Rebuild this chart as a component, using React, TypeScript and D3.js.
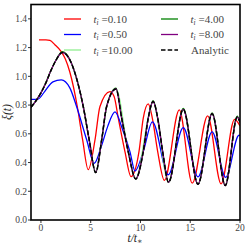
import React from 'react';
import * as d3 from 'd3';

type Pt = [number, number];

// tick values
const xTicks = [0, 5, 10, 15, 20];
const yTicks = [0, 0.2, 0.4, 0.6, 0.8, 1.0, 1.2, 1.4];

// xi(t), [t/t*, xi]
const tI010: Pt[] = [
  [-0.2, 1.254], [0.5, 1.254], [0.9, 1.25], [1.4, 1.22], [2.0, 1.175], [2.45, 1.12],
  [2.9, 1.03], [3.65, 0.79], [4.19, 0.557], [4.75, 0.35], [5.43, 0.557], [5.93, 0.79],
  [6.93, 0.894], [7.35, 0.86], [7.77, 0.709], [8.44, 0.476], [9.05, 0.302], [9.85, 0.476],
  [10.28, 0.709], [10.78, 0.808], [11.19, 0.709], [11.73, 0.476], [12.4, 0.276],
  [13.9, 0.767], [15.2, 0.256], [16.75, 0.725], [18.1, 0.252], [19.45, 0.70], [20, 0.655],
];
const tI050: Pt[] = [
  [-1, 0.84], [-0.3, 0.842], [0.37, 0.894], [1.2, 0.962], [2.04, 0.975], [2.9, 0.92],
  [3.58, 0.79], [4.6, 0.557], [5.35, 0.395], [6.1, 0.52], [6.7, 0.65], [7.44, 0.752],
  [8.2, 0.63], [8.94, 0.476], [9.45, 0.341], [10.28, 0.476], [11.2, 0.683], [12.8, 0.315],
  [14.3, 0.643], [15.78, 0.30], [17.2, 0.613], [18.56, 0.297], [19.9, 0.59], [20, 0.589],
];
const tI1000: Pt[] = [
  [-1, 0.786], [0, 0.886], [1.0, 1.04], [1.5, 1.11], [2.14, 1.167], [2.9, 1.115],
  [3.42, 1.022], [4.25, 0.79], [4.85, 0.557], [5.5, 0.331], [6.1, 0.557], [6.6, 0.79],
  [7.54, 0.912], [8.77, 0.476], [9.52, 0.287], [10.78, 0.709], [11.27, 0.826],
  [12.82, 0.262], [14.3, 0.771], [15.78, 0.25], [17.2, 0.741], [18.52, 0.241],
  [19.72, 0.717], [20, 0.68],
];
const tI400: Pt[] = [
  [-1, 0.785], [-0.5, 0.83], [0, 0.885], [0.5, 0.955], [1.0, 1.04], [1.5, 1.112],
  [2.14, 1.172], [2.9, 1.117], [3.42, 1.022], [4.25, 0.79], [4.85, 0.557], [5.5, 0.33],
  [6.1, 0.557], [6.6, 0.79], [7.54, 0.918], [8.11, 0.709], [8.77, 0.476], [9.52, 0.286],
  [10.28, 0.476], [10.78, 0.709], [11.27, 0.831], [11.73, 0.709], [12.23, 0.476],
  [12.82, 0.262], [14.3, 0.776], [15.78, 0.249], [17.2, 0.746], [18.52, 0.24],
  [19.72, 0.722], [20, 0.68],
];
const tI800: Pt[] = [
  [-1, 0.785], [-0.5, 0.83], [0, 0.885], [0.5, 0.955], [1.0, 1.04], [1.5, 1.11],
  [2.14, 1.166], [2.9, 1.115], [3.42, 1.022], [4.25, 0.79], [4.85, 0.557], [5.5, 0.33],
  [6.1, 0.557], [6.6, 0.79], [7.54, 0.912], [8.11, 0.709], [8.77, 0.476], [9.52, 0.286],
  [10.28, 0.476], [10.78, 0.709], [11.27, 0.825], [11.73, 0.709], [12.23, 0.476],
  [12.82, 0.262], [14.3, 0.77], [15.78, 0.249], [17.2, 0.74], [18.52, 0.24],
  [19.72, 0.716], [20, 0.68],
];
const analytic: Pt[] = [
  [-1, 0.785], [-0.5, 0.83], [0, 0.885], [0.5, 0.955], [1.0, 1.04], [1.5, 1.11],
  [2.14, 1.166], [2.9, 1.115], [3.42, 1.022], [4.25, 0.79], [4.85, 0.557], [5.5, 0.33],
  [6.1, 0.557], [6.6, 0.79], [7.54, 0.912], [8.11, 0.709], [8.77, 0.476], [9.52, 0.286],
  [10.28, 0.476], [10.78, 0.709], [11.27, 0.825], [11.73, 0.709], [12.23, 0.476],
  [12.82, 0.262], [14.3, 0.77], [15.78, 0.249], [17.2, 0.74], [18.52, 0.24],
  [19.72, 0.716], [20, 0.68],
];

// plot order = legend order (two columns, filled column first)
const series = [
  { label: '0.10', data: tI010, color: '#ff0000', dash: null },
  { label: '0.50', data: tI050, color: '#0000ff', dash: null },
  { label: '10.00', data: tI1000, color: '#90ee90', dash: null },
  { label: '4.00', data: tI400, color: '#008000', dash: null },
  { label: '8.00', data: tI800, color: '#800080', dash: null },
  { label: 'Analytic', data: analytic, color: '#000000', dash: '4.5,2.2' },
];

const W = 249, H = 249;
const m = { left: 31, right: 240, top: 4.5, bottom: 220 };
const font = '"Liberation Serif", "DejaVu Serif", serif';

export default function App() {
  const x = d3.scaleLinear().domain([-1, 20]).range([m.left, m.right]);
  const y = d3.scaleLinear().domain([0, 1.5]).range([m.bottom, m.top]);
  const line = d3.line<Pt>()
    .x(d => x(d[0]))
    .y(d => y(d[1]))
    .curve(d3.curveMonotoneX);

  return (
    <svg width={W} height={H}
         style={{ position: 'absolute', left: 0, top: 0, background: '#fff', fontFamily: font }}>
      <defs>
        <clipPath id="plot">
          <rect x={m.left} y={m.top} width={m.right - m.left} height={m.bottom - m.top} />
        </clipPath>
      </defs>

      <g clipPath="url(#plot)">
        {series.map(s => (
          <path key={s.label} d={line(s.data) || ''} fill="none" stroke={s.color}
                strokeWidth={s.dash ? 1.5 : 1.3} strokeDasharray={s.dash || undefined} />
        ))}
      </g>

      {/* frame */}
      <rect x={m.left} y={m.top} width={m.right - m.left} height={m.bottom - m.top}
            fill="none" stroke="#000" strokeWidth={1.6} />

      {/* y axis */}
      {yTicks.map(t => (
        <g key={t}>
          <line x1={m.left} x2={m.left - 3} y1={y(t)} y2={y(t)} stroke="#000" strokeWidth={0.8} />
          <text x={m.left - 4} y={y(t)} dy="0.35em" textAnchor="end" fontSize={9.5} fill="#444">
            {d3.format('.1f')(t)}
          </text>
        </g>
      ))}
      {/* x axis */}
      {xTicks.map(t => (
        <g key={t}>
          <line x1={x(t)} x2={x(t)} y1={m.bottom} y2={m.bottom + 3} stroke="#000" strokeWidth={0.8} />
          <text x={x(t)} y={m.bottom + 11} textAnchor="middle" fontSize={9.5} fill="#444">{t}</text>
        </g>
      ))}

      <text x={135} y={242} textAnchor="middle" fontSize={11.5} fontStyle="italic" fill="#222">
        t/t<tspan fontSize={8} dy={2}>∗</tspan>
      </text>
      <text transform="translate(11,112) rotate(-90)" textAnchor="middle" fontSize={11.5}
            fontStyle="italic" fill="#222">ξ(t)</text>

      {/* legend */}
      {series.map((s, i) => {
        const col = i < 3 ? 0 : 1;
        const row = i % 3;
        const lx = col === 0 ? 64 : 161;
        const ly = 19 + row * 15.5;
        return (
          <g key={s.label}>
            <line x1={lx} x2={lx + 17} y1={ly} y2={ly} stroke={s.color}
                  strokeWidth={s.dash ? 1.5 : 1.3} strokeDasharray={s.dash || undefined} />
            {s.label === 'Analytic'
              ? <text x={lx + 30} y={ly + 3.5} fontSize={11} fill="#444">Analytic</text>
              : <text x={lx + 29.5} y={ly + 3.5} fontSize={11} fill="#444">
                  <tspan fontStyle="italic">t</tspan>
                  <tspan fontStyle="italic" fontSize={7.5} dy={2}>i</tspan>
                  <tspan dy={-2}> ={s.label}</tspan>
                </text>}
          </g>
        );
      })}
    </svg>
  );
}
